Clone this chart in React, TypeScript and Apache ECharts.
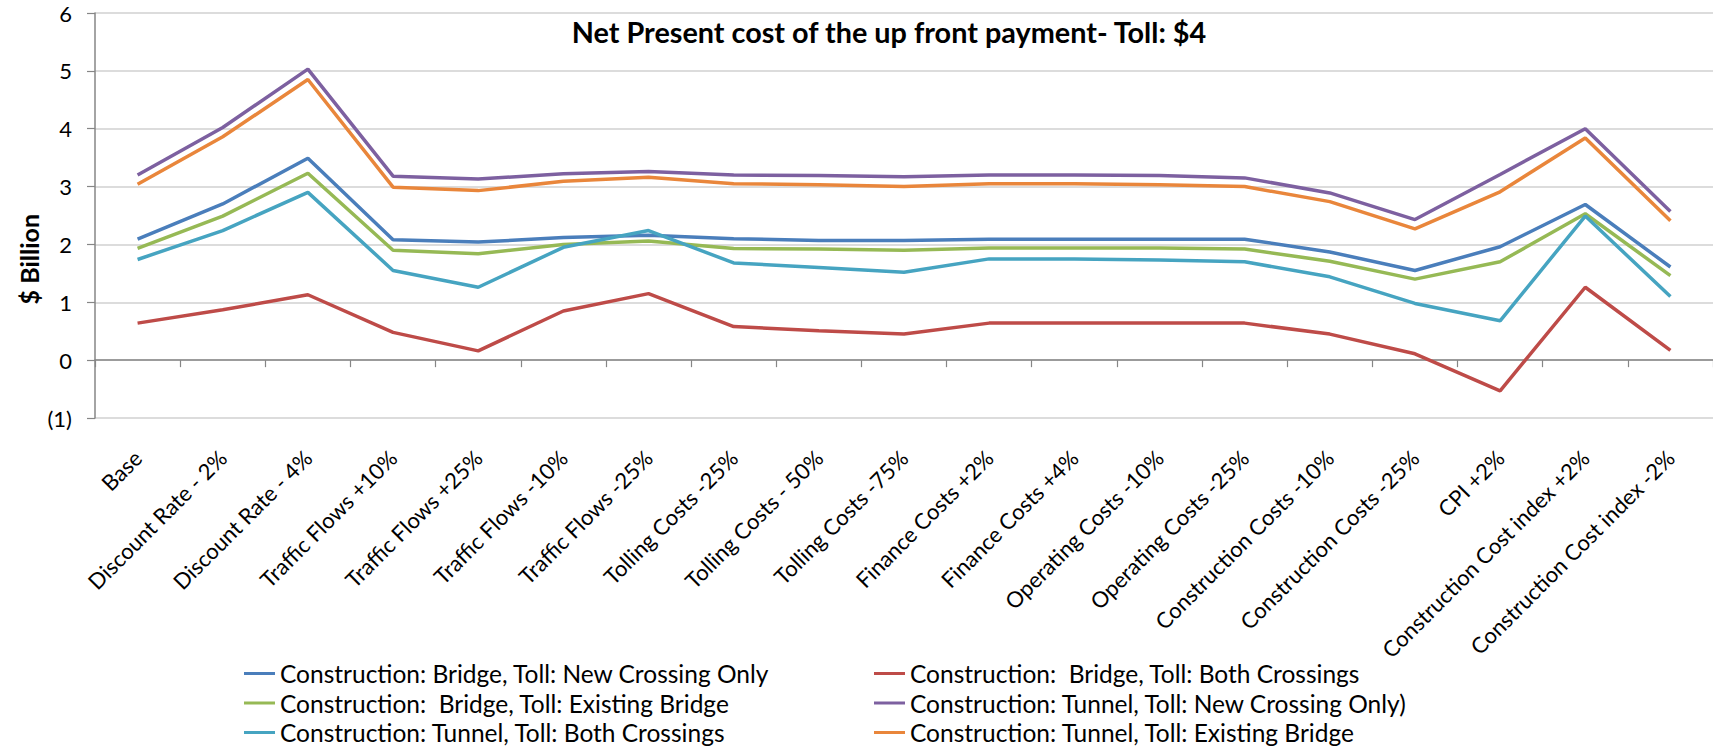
import React, { useEffect, useRef } from "react";
import * as echarts from "echarts";

// Sensitivity cases along the category axis
const scenarios = [
  "Base",
  "Discount Rate - 2%",
  "Discount Rate - 4%",
  "Traffic Flows +10%",
  "Traffic Flows +25%",
  "Traffic Flows -10%",
  "Traffic Flows -25%",
  "Tolling Costs -25%",
  "Tolling Costs - 50%",
  "Tolling Costs -75%",
  "Finance Costs +2%",
  "Finance Costs +4%",
  "Operating Costs -10%",
  "Operating Costs -25%",
  "Construction Costs -10%",
  "Construction Costs -25%",
  "CPI +2%",
  "Construction Cost index +2%",
  "Construction Cost index -2%",
];

// $ Billion, one value per scenario
const bridgeNewCrossing = [2.09, 2.7, 3.49, 2.08, 2.04, 2.12, 2.16, 2.1, 2.07, 2.07, 2.09, 2.09, 2.09, 2.09, 1.87, 1.55, 1.96, 2.69, 1.61];
const bridgeBothCrossings = [0.64, 0.87, 1.13, 0.48, 0.16, 0.85, 1.15, 0.58, 0.51, 0.45, 0.64, 0.64, 0.64, 0.64, 0.45, 0.11, -0.53, 1.26, 0.17];
const bridgeExistingBridge = [1.93, 2.49, 3.23, 1.9, 1.84, 2.0, 2.06, 1.93, 1.92, 1.9, 1.94, 1.94, 1.94, 1.92, 1.71, 1.4, 1.7, 2.53, 1.46];
const tunnelNewCrossing = [3.2, 4.02, 5.03, 3.18, 3.13, 3.22, 3.26, 3.2, 3.19, 3.17, 3.2, 3.2, 3.19, 3.15, 2.89, 2.43, 3.21, 4.0, 2.57];
const tunnelBothCrossings = [1.74, 2.24, 2.9, 1.55, 1.26, 1.95, 2.24, 1.68, 1.6, 1.52, 1.75, 1.75, 1.73, 1.7, 1.44, 0.98, 0.68, 2.49, 1.1];
const tunnelExistingBridge = [3.04, 3.86, 4.85, 2.99, 2.93, 3.09, 3.16, 3.05, 3.03, 3.0, 3.05, 3.05, 3.03, 3.0, 2.74, 2.27, 2.91, 3.84, 2.41];

const seriesNames = [
  "Construction: Bridge, Toll: New Crossing Only",
  "Construction:  Bridge, Toll: Both Crossings",
  "Construction:  Bridge, Toll: Existing Bridge",
  "Construction: Tunnel, Toll: New Crossing Only)",
  "Construction: Tunnel, Toll: Both Crossings",
  "Construction: Tunnel, Toll: Existing Bridge",
];
const seriesValues = [
  bridgeNewCrossing,
  bridgeBothCrossings,
  bridgeExistingBridge,
  tunnelNewCrossing,
  tunnelBothCrossings,
  tunnelExistingBridge,
];
const seriesColors = ["#4A7EBB", "#BE4B48", "#96B955", "#7D60A0", "#46A4C1", "#E9863B"];

const titleText = "Net Present cost of the up front payment- Toll: $4";
const yAxisName = "$ Billion";

const FONT = "Lato, 'Open Sans', sans-serif";

export default function App() {
  const ref = useRef<HTMLDivElement>(null);

  useEffect(() => {
    if (!ref.current) return;
    const chart = echarts.init(ref.current, undefined, { renderer: "svg" });

    const legendBase = {
      orient: "vertical" as const,
      top: 661,
      padding: 0,
      itemWidth: 31,
      itemHeight: 3,
      itemGap: 4.5,
      icon: "rect",
      textStyle: { fontFamily: FONT, fontSize: 24.5, color: "#000", lineHeight: 24 },
    };

    chart.setOption({
      animation: false,
      backgroundColor: "#fff",
      textStyle: { fontFamily: FONT },
      title: {
        text: titleText,
        left: 884,
        top: 12,
        textAlign: "center",
        textStyle: { fontFamily: FONT, fontSize: 28.8, fontWeight: "bold", color: "#000" },
      },
      legend: [
        { ...legendBase, left: 244, data: [seriesNames[0], seriesNames[2], seriesNames[4]] },
        { ...legendBase, left: 874, data: [seriesNames[1], seriesNames[3], seriesNames[5]] },
      ],
      graphic: [
        {
          // vertical axis title, placed by its rotated bounding box
          type: "group",
          left: 16,
          top: 214,
          children: [
            {
              type: "text",
              rotation: Math.PI / 2,
              style: {
                text: yAxisName,
                fontFamily: FONT,
                fontSize: 25,
                fontWeight: "bold",
                fill: "#000",
              },
            },
          ],
        },
      ],
      grid: { left: 95, right: 0, top: 13, bottom: 332 },
      xAxis: {
        type: "category",
        data: scenarios,
        boundaryGap: true,
        axisLine: { lineStyle: { color: "#868686", width: 1.5 } },
        axisTick: { show: true, length: 7, lineStyle: { color: "#868686", width: 1.2 }, interval: 0 },
        axisLabel: {
          rotate: 45,
          interval: 0,
          margin: 36,
          fontFamily: FONT,
          fontSize: 22,
          color: "#000",
        },
        splitLine: { show: false },
      },
      yAxis: {
        type: "value",
        min: -1,
        max: 6,
        interval: 1,
        axisLine: { show: true, lineStyle: { color: "#868686", width: 1.5 } },
        axisTick: { show: true, length: 8, lineStyle: { color: "#868686", width: 1.2 } },
        axisLabel: {
          fontFamily: FONT,
          fontSize: 22,
          color: "#000",
          margin: 23,
          formatter: (v: number) => (v < 0 ? `(${-v})` : `${v}`),
        },
        splitLine: { show: true, lineStyle: { color: "#D0D0D0", width: 1.5 } },
      },
      series: seriesNames.map((name, i) => ({
        name,
        type: "line",
        data: seriesValues[i],
        symbol: "none",
        color: seriesColors[i],
        lineStyle: { width: 3.5, color: seriesColors[i] },
      })),
    });

    return () => chart.dispose();
  }, []);

  return (
    <div
      ref={ref}
      style={{ position: "fixed", left: 0, top: 0, width: 1713, height: 750, background: "#fff" }}
    />
  );
}
